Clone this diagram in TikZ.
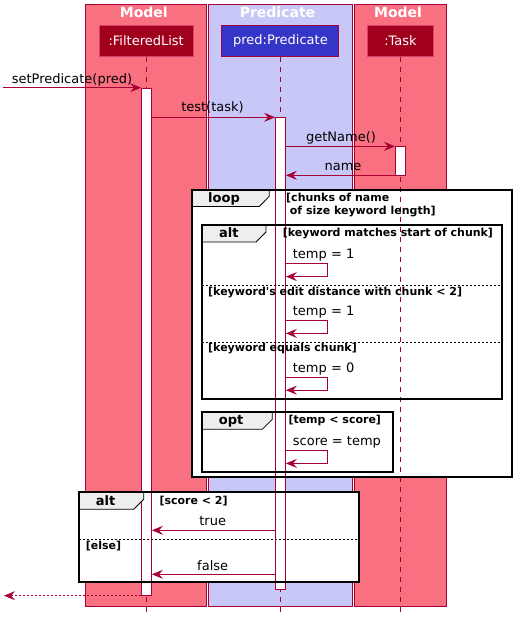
\documentclass[tikz,border=0pt]{standalone}
\usepackage{fontspec}
\setmainfont{DejaVu Sans}[Ligatures=TeXOff]
\usetikzlibrary{arrows.meta}

\definecolor{umlred}{HTML}{A80036}
\definecolor{modelfill}{HTML}{F97181}
\definecolor{predfill}{HTML}{C8C8F8}
\definecolor{partred}{HTML}{A0001C}
\definecolor{partredline}{HTML}{D8406A}
\definecolor{partblue}{HTML}{3535C8}
\definecolor{tabfill}{HTML}{EEEEEE}

\tikzset{
  grpbox/.style={draw=umlred, line width=0.8pt},
  boxtitle/.style={text=white, font=\bfseries\fontsize{14}{16}\selectfont, anchor=base, inner sep=0pt},
  participant/.style={line width=1pt, text=white, minimum height=31pt, inner sep=0pt, font=\fontsize{13}{15}\selectfont},
  lifeline/.style={draw=umlred, line width=0.8pt, dash pattern=on 5pt off 5pt},
  actbar/.style={draw=umlred, fill=white, line width=0.8pt, minimum width=10pt, inner sep=0pt, anchor=north},
  msg/.style={draw=umlred, line width=0.8pt, -{Stealth[length=11pt, width=9pt, inset=4pt]}},
  retmsg/.style={msg, dash pattern=on 2pt off 2pt},
  msglabel/.style={font=\fontsize{13}{15}\selectfont, inner sep=0pt, anchor=base},
  selflabel/.style={msglabel, anchor=base west},
  framefill/.style={fill=white},
  frameedge/.style={draw=black, line width=1.8pt},
  tabshape/.style={draw=black, line width=0.8pt, fill=tabfill},
  tablabel/.style={font=\bfseries\fontsize{13}{15}\selectfont, inner sep=0pt, anchor=base west},
  guard/.style={font=\bfseries\fontsize{11}{13}\selectfont, inner sep=0pt, anchor=base west},
  divider/.style={draw=black, line width=0.7pt, dash pattern=on 2pt off 2pt},
}

\begin{document}
\begin{tikzpicture}[x=1pt, y=-1pt]
\useasboundingbox (0,0) rectangle (521,624);

% ---- package boxes ----
\draw[grpbox, fill=modelfill] (85.7,4.3) rectangle (206.5,606.7);
\draw[grpbox, fill=predfill] (208,4.3) rectangle (352.3,606.7);
\draw[grpbox, fill=modelfill] (354.3,4.3) rectangle (446,606.7);
\node[boxtitle] (titleA) at (143.8,17.8) {Model};
\node[boxtitle] (titleB) at (277.5,17.8) {Predicate};
\node[boxtitle] (titleC) at (398,17.8) {Model};

% ---- participants ----
\node[participant, fill=partred, draw=partredline, minimum width=94pt] (fl) at (146.2,40.5) {:FilteredList};
\node[participant, fill=partblue, draw=umlred, minimum width=117pt] (pr) at (280.4,40.5) {pred:Predicate};
\node[participant, fill=partred, draw=partredline, minimum width=66pt] (tk) at (400.5,40.5) {:Task};

% ---- white backgrounds of the combined fragments ----
\path[framefill] (192.3,190.3) rectangle (511.7,477.3);
\path[framefill] (79,492.3) rectangle (359,582.3);

% ---- lifelines ----
\coordinate (lifeend) at (0,612);
\draw[lifeline] (fl) -- (fl |- lifeend);
\draw[lifeline] (pr) -- (pr |- lifeend);
\draw[lifeline] (tk) -- (tk |- lifeend);

% ---- activation bars ----
\node[actbar, minimum height=507.3pt] (flbar) at (146.5,87.7) {};
\node[actbar, minimum height=472pt] (prbar) at (280.5,117.3) {};
\node[actbar, minimum height=29pt] (tkbar) at (400.4,146.3) {};

% ---- loop frame ----
\draw[tabshape] (192.3,190.3) -- (269.3,190.3) -- (269.3,196.3) -- (259.3,206.5) -- (192.3,206.5) -- cycle;
\draw[frameedge] (192.3,190.3) rectangle (511.7,477.3);
\node[tablabel] (loopTag) at (208,202.7) {loop};
\node[guard] (loopGuardA) at (286,201) {[chunks of name};
\node[guard] (loopGuardB) at (289.7,214.3) {of size keyword length]};

% ---- inner alt frame ----
\draw[tabshape] (202.3,225) -- (266,225) -- (266,232) -- (256,242) -- (202.3,242) -- cycle;
\draw[frameedge] (202.3,225) rectangle (501.7,398.7);
\node[tablabel] (altTagA) at (219,237.3) {alt};
\node[guard] (altGuardA) at (282.7,236.7) {[keyword matches start of chunk]};
\draw[divider] (202.3,285.3) -- (501.7,285.3);
\node[guard] (altGuardB) at (208,295.3) {[keyword's edit distance with chunk < 2]};
\draw[divider] (202.3,342.3) -- (501.7,342.3);
\node[guard] (altGuardC) at (208,351.7) {[keyword equals chunk]};

% ---- opt frame ----
\draw[tabshape] (202.3,411.7) -- (272.3,411.7) -- (272.3,419.3) -- (262.3,429.3) -- (202.3,429.3) -- cycle;
\draw[frameedge] (202.3,411.7) rectangle (392.7,472);
\node[tablabel] (optTag) at (218.7,424) {opt};
\node[guard] (optGuard) at (288.3,423.3) {[temp < score]};

% ---- outer alt frame ----
\draw[tabshape] (79,492.3) -- (143.7,492.3) -- (143.7,499.3) -- (133.7,509.3) -- (79,509.3) -- cycle;
\draw[frameedge] (79,492.3) rectangle (359,582.3);
\node[tablabel] (altTagB) at (95.7,505.7) {alt};
\node[guard] (scoreGuard) at (159.3,504.3) {[score < 2]};
\draw[divider] (79,539.3) -- (359,539.3);
\node[guard] (elseGuard) at (85.7,549.7) {[else]};

% ---- messages ----
\coordinate (caller) at (3,87.7);
\draw[msg] (caller) -- (flbar.west |- caller);
\node[msglabel] (lblSet) at (72,83) {setPredicate(pred)};

\coordinate (yTest) at (0,117.3);
\draw[msg] (flbar.east |- yTest) -- (prbar.west |- yTest);
\node[msglabel] (lblTest) at (212.5,111.7) {test(task)};

\coordinate (yGet) at (0,146.3);
\draw[msg] (prbar.east |- yGet) -- (tkbar.west |- yGet);
\node[msglabel] (lblGet) at (341,141) {getName()};

\coordinate (yName) at (0,175.3);
\draw[msg] (tkbar.west |- yName) -- (prbar.east |- yName);
\node[msglabel] (lblName) at (343,170) {name};

% self calls on the predicate
\coordinate (yS1) at (0,263.3);
\draw[msg] (prbar.east |- yS1) -- ++(41.7,0) -- ++(0,13.3) -- ++(-41.7,0);
\node[selflabel] (lblS1) at (292.7,258.3) {temp = 1};

\coordinate (yS2) at (0,320.7);
\draw[msg] (prbar.east |- yS2) -- ++(41.7,0) -- ++(0,12.7) -- ++(-41.7,0);
\node[selflabel] (lblS2) at (292.7,315.3) {temp = 1};

\coordinate (yS3) at (0,377.7);
\draw[msg] (prbar.east |- yS3) -- ++(41.7,0) -- ++(0,12.5) -- ++(-41.7,0);
\node[selflabel] (lblS3) at (292.7,372.3) {temp = 0};

\coordinate (yS4) at (0,450.7);
\draw[msg] (prbar.east |- yS4) -- ++(41.7,0) -- ++(0,12.7) -- ++(-41.7,0);
\node[selflabel] (lblS4) at (292.7,445.3) {score = temp};

\coordinate (yTrue) at (0,530.3);
\draw[msg] (prbar.west |- yTrue) -- (flbar.east |- yTrue);
\node[msglabel] (lblTrue) at (212.7,525.7) {true};

\coordinate (yFalse) at (0,574.3);
\draw[msg] (prbar.west |- yFalse) -- (flbar.east |- yFalse);
\node[msglabel] (lblFalse) at (212.7,570) {false};

\coordinate (retend) at (4,595.7);
\draw[retmsg] (flbar.west |- retend) -- (retend);
\end{tikzpicture}
\end{document}
